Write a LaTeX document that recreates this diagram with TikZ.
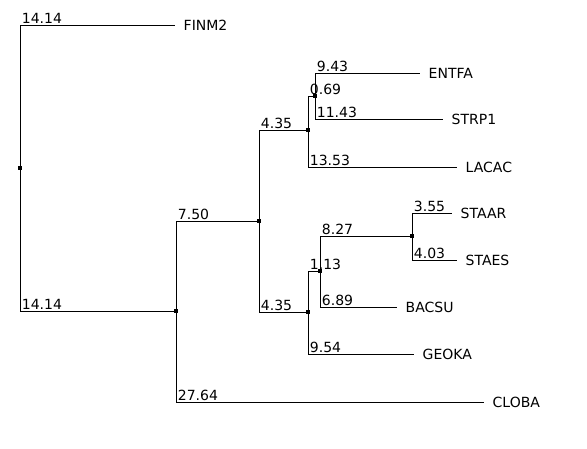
\documentclass[tikz,border=0pt]{standalone}
\usepackage{fontspec}
\setmainfont{DejaVu Sans}
\usepackage{tikz}

\begin{document}
\begin{tikzpicture}[x=1pt,y=-1pt,font=\fontsize{14}{16}\selectfont,
  junc/.style={fill=black,minimum size=4pt,inner sep=0pt},
  leaf/.style={anchor=west,inner xsep=8.5pt,inner ysep=0pt,text depth=0pt},
  blen/.style={anchor=south west,inner xsep=1.5pt,inner ysep=1pt,text depth=0pt},
  br/.style={line width=0.8pt},
]
\path[use as bounding box] (0,0) rectangle (587,448);

% internal nodes
\node[junc] (root) at (20,168) {};
\node[junc] (n1) at (176,311) {};
\node[junc] (n2) at (259,221) {};
\node[junc] (n3) at (308,130) {};
\node[junc] (n4) at (315,96) {};
\node[junc] (n5) at (308,312) {};
\node[junc] (n6) at (320,271) {};
\node[junc] (n7) at (412,236) {};

% leaves
\node[leaf] (finm2) at (175,25)  {FINM2};
\node[leaf] (entfa) at (420,73)  {ENTFA};
\node[leaf] (strp1) at (443,119) {STRP1};
\node[leaf] (lacac) at (457,167) {LACAC};
\node[leaf] (staar) at (452,213) {STAAR};
\node[leaf] (staes) at (457,260) {STAES};
\node[leaf] (bacsu) at (397,307) {BACSU};
\node[leaf] (geoka) at (414,354) {GEOKA};
\node[leaf] (cloba) at (484,402) {CLOBA};

% branches
\draw[br] (root) |- node[blen]{14.14} (finm2.west);
\draw[br] (root) |- node[blen]{14.14} (n1);
\draw[br] (n1) |- node[blen]{7.50} (n2);
\draw[br] (n1) |- node[blen]{27.64} (cloba.west);
\draw[br] (n2) |- node[blen]{4.35} (n3);
\draw[br] (n2) |- node[blen]{4.35} (n5);
\draw[br] (n3) |- node[blen]{0.69} (n4);
\draw[br] (n3) |- node[blen]{13.53} (lacac.west);
\draw[br] (n4) |- node[blen]{9.43} (entfa.west);
\draw[br] (n4) |- node[blen]{11.43} (strp1.west);
\draw[br] (n5) |- node[blen]{1.13} (n6);
\draw[br] (n5) |- node[blen]{9.54} (geoka.west);
\draw[br] (n6) |- node[blen]{8.27} (n7);
\draw[br] (n6) |- node[blen]{6.89} (bacsu.west);
\draw[br] (n7) |- node[blen]{3.55} (staar.west);
\draw[br] (n7) |- node[blen]{4.03} (staes.west);
\end{tikzpicture}
\end{document}
